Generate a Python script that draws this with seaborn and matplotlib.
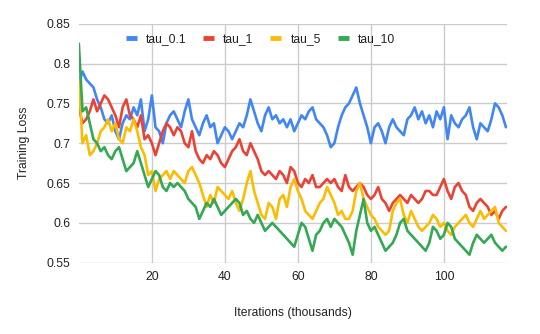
import numpy as np
import pandas as pd
import matplotlib
matplotlib.use("Agg")
import matplotlib.pyplot as plt
import seaborn as sns

# Loss values, one per thousand iterations
tau_01 = [0.775, 0.79, 0.78, 0.775, 0.77, 0.755, 0.745, 0.73, 0.725, 0.735,
          0.715, 0.705, 0.725, 0.735, 0.73, 0.745, 0.735, 0.755, 0.715, 0.73,
          0.76, 0.72, 0.715, 0.70, 0.725, 0.735, 0.74, 0.73, 0.72, 0.74,
          0.755, 0.73, 0.72, 0.71, 0.725, 0.735, 0.72, 0.725, 0.70, 0.71,
          0.72, 0.715, 0.705, 0.715, 0.725, 0.72, 0.735, 0.755, 0.74, 0.725,
          0.715, 0.735, 0.745, 0.73, 0.735, 0.725, 0.73, 0.72, 0.73, 0.715,
          0.725, 0.735, 0.73, 0.74, 0.745, 0.73, 0.725, 0.72, 0.71, 0.695,
          0.70, 0.72, 0.735, 0.745, 0.75, 0.76, 0.77, 0.75, 0.735, 0.72,
          0.70, 0.72, 0.725, 0.715, 0.70, 0.72, 0.73, 0.72, 0.715, 0.71,
          0.73, 0.735, 0.745, 0.73, 0.74, 0.725, 0.735, 0.72, 0.74, 0.73,
          0.745, 0.705, 0.735, 0.725, 0.72, 0.73, 0.735, 0.745, 0.72, 0.705,
          0.725, 0.72, 0.715, 0.73, 0.75, 0.745, 0.735, 0.72]
tau_1 = [0.745, 0.725, 0.73, 0.74, 0.755, 0.74, 0.75, 0.76, 0.755, 0.745,
         0.735, 0.72, 0.745, 0.755, 0.735, 0.73, 0.72, 0.735, 0.705, 0.71,
         0.70, 0.685, 0.70, 0.715, 0.725, 0.72, 0.71, 0.72, 0.715, 0.70,
         0.695, 0.715, 0.69, 0.68, 0.675, 0.685, 0.68, 0.69, 0.685, 0.675,
         0.67, 0.68, 0.69, 0.695, 0.705, 0.69, 0.685, 0.70, 0.69, 0.68,
         0.665, 0.66, 0.665, 0.66, 0.655, 0.665, 0.66, 0.65, 0.67, 0.665,
         0.65, 0.645, 0.655, 0.65, 0.66, 0.645, 0.645, 0.65, 0.655, 0.65,
         0.655, 0.645, 0.64, 0.66, 0.645, 0.64, 0.645, 0.65, 0.645, 0.635,
         0.63, 0.635, 0.645, 0.63, 0.625, 0.615, 0.625, 0.63, 0.635, 0.63,
         0.625, 0.635, 0.63, 0.625, 0.63, 0.64, 0.64, 0.635, 0.635, 0.645,
         0.655, 0.64, 0.63, 0.645, 0.65, 0.64, 0.635, 0.62, 0.615, 0.625,
         0.63, 0.625, 0.62, 0.61, 0.615, 0.605, 0.615, 0.62]
tau_5 = [0.78, 0.70, 0.71, 0.685, 0.69, 0.70, 0.715, 0.72, 0.73, 0.715,
         0.725, 0.705, 0.70, 0.72, 0.715, 0.73, 0.715, 0.695, 0.685, 0.66,
         0.665, 0.64, 0.655, 0.66, 0.665, 0.655, 0.665, 0.66, 0.655, 0.65,
         0.665, 0.67, 0.66, 0.65, 0.635, 0.62, 0.635, 0.625, 0.645, 0.64,
         0.635, 0.63, 0.64, 0.625, 0.615, 0.63, 0.65, 0.665, 0.64, 0.625,
         0.61, 0.605, 0.625, 0.62, 0.605, 0.63, 0.635, 0.62, 0.645, 0.655,
         0.64, 0.63, 0.615, 0.61, 0.605, 0.615, 0.625, 0.63, 0.645, 0.635,
         0.625, 0.61, 0.615, 0.605, 0.605, 0.615, 0.64, 0.65, 0.63, 0.62,
         0.61, 0.605, 0.595, 0.59, 0.585, 0.59, 0.615, 0.625, 0.63, 0.61,
         0.60, 0.615, 0.605, 0.595, 0.59, 0.595, 0.60, 0.61, 0.605, 0.595,
         0.60, 0.59, 0.585, 0.595, 0.60, 0.605, 0.61, 0.60, 0.595, 0.605,
         0.615, 0.605, 0.61, 0.615, 0.62, 0.60, 0.595, 0.59]
tau_10 = [0.825, 0.74, 0.745, 0.725, 0.705, 0.70, 0.69, 0.695, 0.685, 0.68,
          0.69, 0.695, 0.68, 0.665, 0.67, 0.675, 0.69, 0.675, 0.66, 0.645,
          0.655, 0.665, 0.66, 0.645, 0.64, 0.65, 0.645, 0.65, 0.645, 0.64,
          0.63, 0.625, 0.62, 0.605, 0.615, 0.625, 0.62, 0.63, 0.62, 0.61,
          0.615, 0.62, 0.625, 0.63, 0.625, 0.61, 0.615, 0.605, 0.60, 0.61,
          0.60, 0.59, 0.595, 0.60, 0.595, 0.59, 0.585, 0.58, 0.575, 0.57,
          0.585, 0.60, 0.595, 0.58, 0.565, 0.585, 0.59, 0.60, 0.605, 0.595,
          0.605, 0.60, 0.595, 0.585, 0.575, 0.56, 0.59, 0.61, 0.63, 0.60,
          0.59, 0.595, 0.585, 0.575, 0.565, 0.57, 0.575, 0.585, 0.60, 0.605,
          0.59, 0.585, 0.58, 0.575, 0.57, 0.565, 0.575, 0.595, 0.59, 0.58,
          0.585, 0.60, 0.595, 0.58, 0.575, 0.57, 0.565, 0.56, 0.575, 0.585,
          0.58, 0.575, 0.58, 0.585, 0.575, 0.57, 0.565, 0.57]

series_names = ["tau_0.1", "tau_1", "tau_5", "tau_10"]
series_values = [tau_01, tau_1, tau_5, tau_10]
colors = ["#4285F4", "#EA4335", "#FBBC04", "#34A853"]

x_ticks = [20, 40, 60, 80, 100]
y_ticks = [0.55, 0.6, 0.65, 0.7, 0.75, 0.8, 0.85]
y_labels = ["0.55", "0.6", "0.65", "0.7", "0.75", "0.8", "0.85"]

# long-form table for seaborn
frames = []
for name, vals in zip(series_names, series_values):
    frames.append(pd.DataFrame({"iter": np.arange(len(vals)), "loss": vals, "series": name}))
df = pd.concat(frames, ignore_index=True)

sns.set_style("white")
plt.rcParams["font.family"] = ["Liberation Sans", "DejaVu Sans"]

fig = plt.figure(figsize=(5.4, 3.34), dpi=100)
ax = fig.add_axes([0.146, 0.2135, 0.793, 0.7155])

sns.lineplot(data=df, x="iter", y="loss", hue="series", hue_order=series_names,
             palette=dict(zip(series_names, colors)), linewidth=1.9, ax=ax,
             legend=False, zorder=3)
for ln in ax.get_lines():
    ln.set_solid_joinstyle("round")

ax.set_xlim(0, 117.3)
ax.set_ylim(0.55, 0.85)
ax.set_xticks(x_ticks)
ax.set_yticks(y_ticks)
ax.set_yticklabels(y_labels)
ax.grid(True, color="#cccccc", linewidth=1)
for s in ax.spines.values():
    s.set_visible(False)
ax.tick_params(axis="both", length=0, labelsize=8.7, colors="#222222", pad=6)
ax.set_xlabel("Iterations (thousands)", fontsize=8.7, color="#222222", labelpad=17)
ax.set_ylabel("Training Loss", fontsize=8.7, color="#222222", labelpad=12)

handles = [plt.Line2D([], [], color=c, linewidth=3.5, solid_capstyle="butt") for c in colors]
fig.legend(handles, series_names, loc="center", bbox_to_anchor=(0.482, 0.884),
           ncol=4, frameon=False, fontsize=8.7, handlelength=0.9,
           handletextpad=0.75, columnspacing=1.4, labelcolor="#222222")

fig.savefig("out.png", dpi=100)
